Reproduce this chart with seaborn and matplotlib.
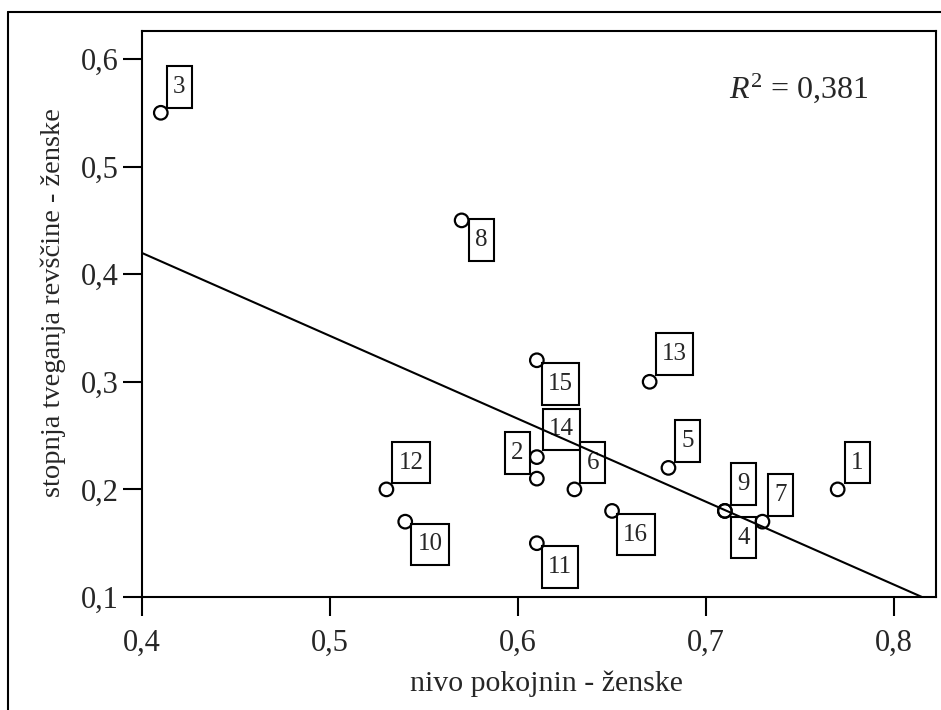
import matplotlib
matplotlib.use('Agg')
import matplotlib.pyplot as plt
import seaborn as sns
import pandas as pd
from matplotlib.lines import Line2D
from matplotlib.path import Path
from matplotlib.ticker import FuncFormatter

# data
labels = ['1', '2', '3', '4', '5', '6', '7', '8', '9', '10', '11', '12', '13', '14', '15', '16']
pokojnine = [0.77, 0.61, 0.41, 0.71, 0.68, 0.63, 0.73, 0.57, 0.71, 0.54, 0.61, 0.53, 0.67, 0.61, 0.61, 0.65]
revscina = [0.20, 0.21, 0.55, 0.18, 0.22, 0.20, 0.17, 0.45, 0.18, 0.17, 0.15, 0.20, 0.30, 0.23, 0.32, 0.18]
x_ticks = [0.4, 0.5, 0.6, 0.7, 0.8]
y_ticks = [0.1, 0.2, 0.3, 0.4, 0.5, 0.6]
r2_text = r'$R^2$ = 0,381'

df = pd.DataFrame({'x': pokojnine, 'y': revscina, 'label': labels})

# where each label box sits relative to its point (pixels, corner of box, alignment)
placement = {
    '1': (7, 6, 'left', 'bottom'), '2': (-7, 5, 'right', 'bottom'),
    '3': (6, 5, 'left', 'bottom'), '4': (6, -6, 'left', 'top'),
    '5': (7, 6, 'left', 'bottom'), '6': (6, 6, 'left', 'bottom'),
    '7': (6, 6, 'left', 'bottom'), '8': (7, 1, 'left', 'top'),
    '9': (6, 6, 'left', 'bottom'), '10': (6, -2, 'left', 'top'),
    '11': (5, -3, 'left', 'top'), '12': (6, 6, 'left', 'bottom'),
    '13': (6, 7, 'left', 'bottom'), '14': (6, 7, 'left', 'bottom'),
    '15': (5, -3, 'left', 'top'), '16': (5, -3, 'left', 'top'),
}

sns.set_style('ticks')
plt.rcParams['font.family'] = ['Liberation Serif', 'DejaVu Serif']
plt.rcParams['mathtext.fontset'] = 'custom'
plt.rcParams['mathtext.rm'] = 'Liberation Serif'
plt.rcParams['mathtext.it'] = 'Liberation Serif:italic'

fs_box = 18
pad_x, pad_y = 0.25, 0.39


# SPSS label boxes are taller than they are padded sideways
def tall_box(x0, y0, width, height, mutation_size):
    px, py = pad_x * mutation_size, pad_y * mutation_size
    x1, y1 = x0 + width + px, y0 + height + py
    x0, y0 = x0 - px, y0 - py
    return Path([(x0, y0), (x1, y0), (x1, y1), (x0, y1), (x0, y0)], closed=True)


fig = plt.figure(figsize=(9.41, 7.10), dpi=100)
ax = fig.add_axes([142 / 941, 113 / 710, 794 / 941, 566 / 710])
ax.set_xlim(0.4, 0.8223)
ax.set_ylim(0.1, 0.626)

sns.regplot(data=df, x='x', y='y', ax=ax, scatter=False, ci=None, truncate=False,
            line_kws={'color': 'black', 'linewidth': 1.5, 'zorder': 4})
sns.scatterplot(data=df, x='x', y='y', ax=ax, marker='o', s=95,
                facecolor='none', edgecolor='black', linewidth=1.6, zorder=5)

fs_px = fs_box * 100 / 72
for _, row in df.iterrows():
    dx, dy, ha, va = placement[row['label']]
    dx = dx + pad_x * fs_px if ha == 'left' else dx - pad_x * fs_px
    dy = dy + pad_y * fs_px if va == 'bottom' else dy - pad_y * fs_px
    ax.annotate(row['label'], (row['x'], row['y']), xytext=(dx, dy),
                textcoords='offset pixels', ha=ha, va=va, fontsize=fs_box,
                bbox=dict(boxstyle=tall_box, fc='none', ec='black', lw=1.5),
                zorder=3)

ax.text(0.739, 0.882, r2_text, transform=ax.transAxes, fontsize=23,
        ha='left', va='baseline')

ax.set_xticks(x_ticks)
ax.set_yticks(y_ticks)
comma = FuncFormatter(lambda v, p: f'{v:.1f}'.replace('.', ','))
ax.xaxis.set_major_formatter(comma)
ax.yaxis.set_major_formatter(comma)
ax.tick_params(axis='both', direction='out', length=14, width=1.5, labelsize=22, color='black')
ax.tick_params(axis='x', pad=9)
ax.tick_params(axis='y', pad=3)
for s in ax.spines.values():
    s.set_visible(True)
    s.set_linewidth(1.5)
    s.set_color('black')

ax.set_xlabel('nivo pokojnin - ženske', fontsize=21.5)
ax.set_ylabel('stopnja tveganja revščine - ženske', fontsize=20.5)
ax.xaxis.set_label_coords(0.509, -0.129)
ax.yaxis.set_label_coords(-0.096, 0.521)

# outer frame, cut off on right and bottom
fig.add_artist(Line2D([8 / 941, 8 / 941], [0, 1 - 12 / 710], transform=fig.transFigure,
                      color='black', lw=1.5))
fig.add_artist(Line2D([8 / 941, 1], [1 - 12 / 710, 1 - 12 / 710], transform=fig.transFigure,
                      color='black', lw=1.5))

fig.savefig('out.png', dpi=100)
